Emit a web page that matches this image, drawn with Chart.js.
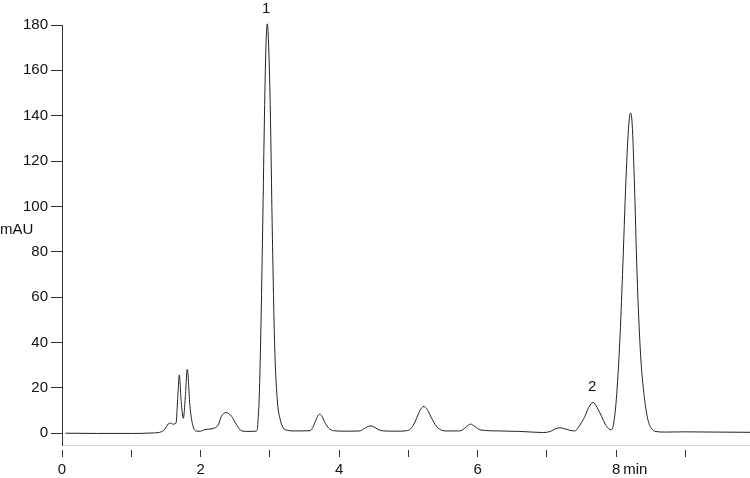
<!DOCTYPE html>
<html>
<head>
<meta charset="utf-8">
<script src="https://cdn.jsdelivr.net/npm/chart.js@4/dist/chart.umd.min.js"></script>
<style>
  body { margin: 0; background: #fff; }
  canvas { display: block; }
</style>
</head>
<body>
<canvas id="chrom" width="750" height="478"></canvas>
<script>
// retention time (min) and absorbance (mAU)
const times = [
  0.05, 0.5, 1.0, 1.3, 1.44, 1.486, 1.534, 1.568, 1.597, 1.645, 1.674, 1.693, 1.72, 1.751,
  1.78, 1.808, 1.847, 1.886, 1.944, 2.0, 2.06, 2.18, 2.256, 2.30, 2.367, 2.448, 2.52, 2.593,
  2.7, 2.80, 2.818, 2.83, 2.847, 2.87, 2.896, 2.925, 2.945, 2.963, 2.98, 3.005, 3.035, 3.07,
  3.107, 3.146, 3.19, 3.25, 3.35, 3.58, 3.62, 3.66, 3.70, 3.723, 3.75, 3.79, 3.85, 3.92,
  4.1, 4.30, 4.35, 4.41, 4.455, 4.50, 4.56, 4.64, 4.85, 4.97, 5.02, 5.07, 5.118, 5.17,
  5.224, 5.27, 5.335, 5.40, 5.46, 5.53, 5.72, 5.78, 5.84, 5.897, 5.95, 6.0, 6.05, 6.3,
  6.6, 6.95, 7.05, 7.12, 7.186, 7.25, 7.33, 7.40, 7.45, 7.50, 7.547, 7.60, 7.667, 7.72,
  7.788, 7.84, 7.89, 7.93, 7.96, 8.00, 8.05, 8.09, 8.14, 8.18, 8.206, 8.23, 8.26, 8.30,
  8.35, 8.41, 8.46, 8.51, 8.56, 8.7, 9.0, 9.4, 9.93
];
const mAU = [
  0.0, -0.1, -0.1, 0.1, 0.7, 1.9, 4.1, 4.5, 4.0, 4.4, 17.6, 25.7, 14.0, 6.6,
  16.0, 28.2, 11.8, 3.7, 0.9, 0.9, 1.6, 2.1, 3.7, 7.4, 9.1, 7.4, 3.7, 1.0,
  0.8, 0.9, 1.5, 6.0, 16.0, 45.0, 89.6, 145.0, 172.0, 180.5, 173.0, 145.0, 89.6, 38.0,
  14.7, 6.5, 2.5, 1.3, 1.0, 1.1, 2.5, 5.5, 8.0, 8.4, 7.6, 5.0, 2.2, 1.1,
  0.9, 1.0, 1.8, 2.9, 3.2, 2.8, 1.7, 1.0, 0.9, 1.1, 1.6, 3.5, 6.6, 10.2,
  11.8, 10.5, 6.6, 3.2, 1.6, 1.0, 1.0, 1.4, 3.0, 4.0, 3.2, 2.0, 1.4, 1.0,
  0.8, 0.3, 0.8, 1.9, 2.4, 2.0, 1.3, 1.0, 2.5, 4.8, 7.4, 11.3, 13.6, 11.5,
  7.4, 4.0, 2.0, 1.5, 4.0, 14.7, 40.0, 70.0, 112.0, 136.0, 141.2, 136.0, 112.0, 70.0,
  35.0, 14.7, 5.5, 2.0, 0.8, 0.5, 0.6, 0.5, 0.4
];

const peakNames = ['1', '2'];
const peakTimes = [2.963, 7.667];
const peakTops = [180.5, 13.6];

const labelledTicks = [0, 2, 4, 6, 8];
const yTicks = [0, 20, 40, 60, 80, 100, 120, 140, 160, 180];

const FONT = '"Liberation Sans", Arial, sans-serif';
const FONT_SIZE = 15;
const INK = '#111';
const X_TICK_LEN = 12;
const X_TICK_PAD = 4;

const labelsPlugin = {
  id: 'labels',
  afterDraw(chart) {
    const ctx = chart.ctx;
    const x = chart.scales.x;
    const y = chart.scales.y;
    ctx.save();
    ctx.fillStyle = INK;
    ctx.font = FONT_SIZE + 'px ' + FONT;
    // unit of the y axis, written level
    ctx.textAlign = 'left';
    ctx.textBaseline = 'middle';
    ctx.fillText('mAU', 0, 230);
    // unit after the 8 tick label, on the same line as the tick labels
    const ly = x.top + X_TICK_LEN + X_TICK_PAD + FONT_SIZE * 1.2 / 2;
    ctx.fillText('min', x.getPixelForValue(8) + 7, ly);
    // peak numbers
    ctx.textAlign = 'center';
    ctx.textBaseline = 'bottom';
    peakNames.forEach((n, i) => {
      ctx.fillText(n, x.getPixelForValue(peakTimes[i]) - 1, y.getPixelForValue(peakTops[i]) - 8);
    });
    ctx.restore();
  }
};

new Chart(document.getElementById('chrom'), {
  type: 'line',
  data: {
    datasets: [{
      data: times.map((t, i) => ({ x: t, y: mAU[i] })),
      borderColor: '#222',
      borderWidth: 1,
      pointRadius: 0,
      fill: false,
      cubicInterpolationMode: 'monotone',
      clip: false
    }]
  },
  options: {
    responsive: false,
    animation: false,
    layout: { padding: { top: 25, right: 0, left: 0, bottom: 0 } },
    plugins: { legend: { display: false }, tooltip: { enabled: false } },
    scales: {
      x: {
        type: 'linear',
        min: 0,
        max: 9.93,
        afterFit(s) { s.height = 33; },
        border: { color: '#d6d6d6', width: 1 },
        grid: {
          drawOnChartArea: false,
          tickLength: X_TICK_LEN,
          tickColor: '#333',
          tickBorderDash: [8, 4],
          tickBorderDashOffset: 8
        },
        ticks: {
          stepSize: 1,
          includeBounds: false,
          autoSkip: false,
          maxRotation: 0,
          padding: X_TICK_PAD,
          color: INK,
          font: { family: FONT, size: FONT_SIZE },
          callback: v => labelledTicks.includes(v) ? String(v) : ''
        }
      },
      y: {
        min: -5.2,
        max: 180,
        afterFit(s) { s.width = 62; },
        afterBuildTicks(s) { s.ticks = yTicks.map(v => ({ value: v })); },
        border: { color: '#333', width: 1 },
        grid: {
          drawOnChartArea: false,
          tickLength: 11,
          tickColor: '#333'
        },
        ticks: {
          padding: 3,
          color: INK,
          font: { family: FONT, size: FONT_SIZE }
        }
      }
    }
  },
  plugins: [labelsPlugin]
});
</script>
</body>
</html>
